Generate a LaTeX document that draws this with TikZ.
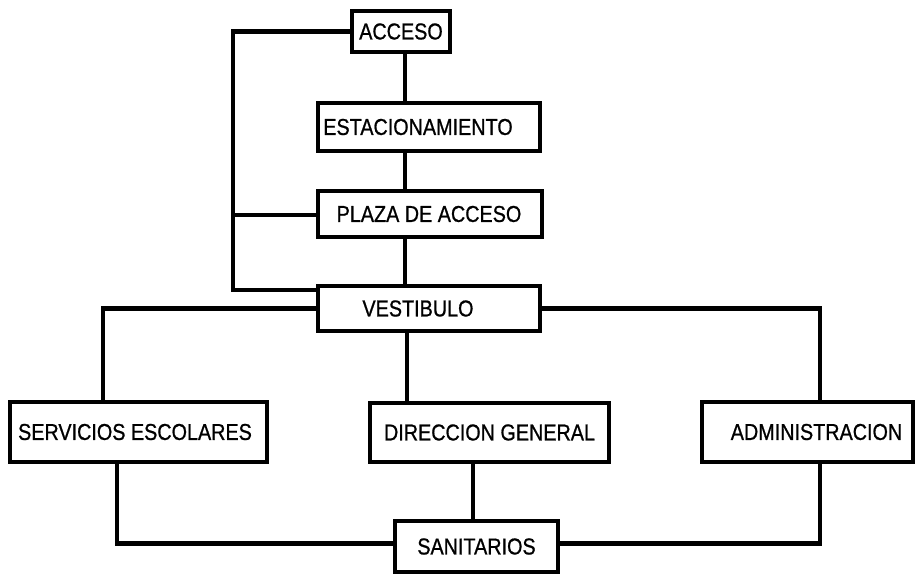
\documentclass[tikz,border=0pt]{standalone}
\usepackage{fontspec}
\setmainfont{Liberation Sans}[FakeStretch=0.86,FakeBold=0.8]
\begin{document}
\begin{tikzpicture}[x=1pt,y=-1pt,
  box/.style={draw=black, line width=4.5pt, rectangle, inner sep=0pt,
    font=\fontsize{23}{23}\selectfont},
  conn/.style={draw=black, line width=4.5pt, line cap=rect}]
\useasboundingbox (0,0) rectangle (916,575);
\fill[white] (0,0) rectangle (916,575);
% boxes
\node[box, minimum width=98pt, minimum height=41pt] (acc) at (401,31.5) {ACCESO};
\node[box, minimum width=222pt, minimum height=48pt] (est) at (429,127) {\hspace*{-22pt}ESTACIONAMIENTO};
\node[box, minimum width=224pt, minimum height=46pt] (pla) at (430,214) {\hspace*{-2pt}PLAZA DE ACCESO};
\node[box, minimum width=222pt, minimum height=45pt] (ves) at (429,308.5) {\hspace*{-22pt}VESTIBULO};
\node[box, minimum width=257pt, minimum height=60pt] (ser) at (138.5,432) {\hspace*{-7pt}SERVICIOS ESCOLARES};
\node[box, minimum width=239pt, minimum height=59pt] (dir) at (489.5,432.5) {DIRECCION GENERAL};
\node[box, minimum width=211pt, minimum height=60pt] (adm) at (807.5,432) {\hspace*{18pt}ADMINISTRACION};
\node[box, minimum width=163pt, minimum height=51pt] (san) at (476.5,546.5) {SANITARIOS};
% loop on the left
\coordinate (br) at (233,215);
\coordinate (lb) at (233,290);
\draw[conn] (acc.west) -| (lb) -- (lb -| ves.west);
\draw[conn] (br) -- (br -| pla.west);
% central spine
\draw[conn] ([xshift=4pt]acc.south) -- ([xshift=4pt]acc.south |- est.north);
\draw[conn] ([xshift=-24pt]est.south) -- ([xshift=-24pt]est.south |- pla.north);
\draw[conn] ([xshift=-25pt]pla.south) -- ([xshift=-25pt]pla.south |- ves.north);
% vestibulo to departments
\draw[conn] (ves.west) -| ([xshift=-35.5pt]ser.north);
\draw[conn] (ves.east) -| ([xshift=12.5pt]adm.north);
\draw[conn] ([xshift=-22pt]ves.south) -- ([xshift=-22pt]ves.south |- dir.north);
% departments to sanitarios
\draw[conn] ([xshift=-21.5pt]ser.south) |- ([yshift=3pt]san.west);
\draw[conn] ([xshift=-16.5pt]dir.south) -- ([xshift=-16.5pt]dir.south |- san.north);
\draw[conn] ([xshift=12.5pt]adm.south) |- ([yshift=3pt]san.east);
\end{tikzpicture}
\end{document}
